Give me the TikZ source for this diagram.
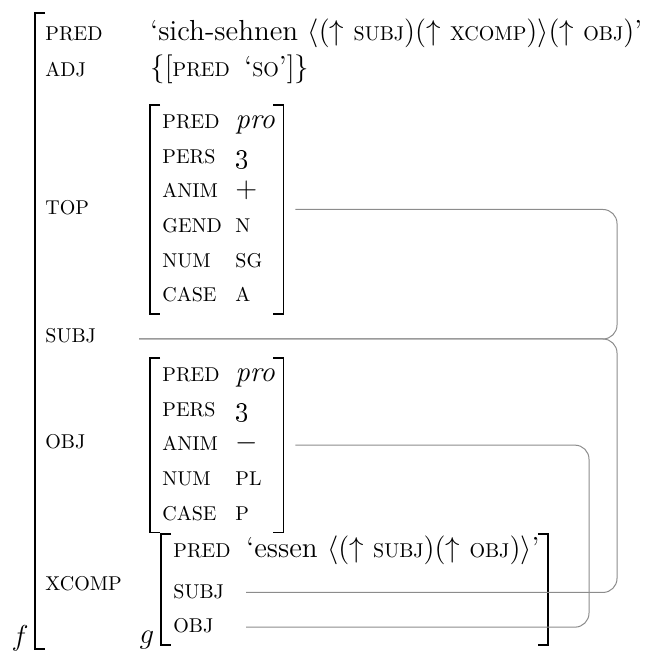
\documentclass[tikz,border=0pt]{standalone}
\usepackage{tikz}
\usetikzlibrary{matrix}

\newcommand{\fa}[1]{{\fontsize{10}{12}\selectfont\MakeUppercase{#1}}}
\newcommand{\gf}[1]{$\Big(\mathord{\uparrow}$\ \fa{#1}$\Big)$}
\newcommand{\avmbrk}[1]{%
	\draw[brk] ([xshift=-1pt]#1.north west) -- ([xshift=-6pt]#1.north west)
		-- ([xshift=-6pt]#1.south west) -- ([xshift=-1pt]#1.south west);
	\draw[brk] ([xshift=-1pt]#1.north east) -- ([xshift=4pt]#1.north east)
		-- ([xshift=4pt]#1.south east) -- ([xshift=-1pt]#1.south east);
}

\begin{document}
\begin{tikzpicture}[x=0.5pt, y=-0.5pt]

\tikzset{avm/.style={
		matrix of nodes,
		nodes in empty cells,
		inner sep=0pt,
		anchor=north west,
		nodes={anchor=base west,
			inner sep=0pt,
			text height=11.5pt,
			text depth=5.85pt
		},
		column 1/.style={nodes={text width=#1, align=left}},
	},
	avm/.default=36.5pt,
	attr/.style={anchor=base west, inner sep=0pt},
	brk/.style={line width=0.8pt},
	link/.style={draw=black!45, line width=0.5pt, rounded corners=7pt},
	every node/.append style={font=\fontsize{14.5}{17}\selectfont}
}
\useasboundingbox (0,0) rectangle (659,652);

% outer f-structure
\draw[brk] (45,13) -- (35,13) -- (35,649) -- (45,649);
\node (f-lbl) [anchor=base] at (20,645) {$f$};

\node (p-pred) [attr] at (45,41) {\fa{pred}};
\node (p-adj) [attr] at (45,77) {\fa{adj}};
\node (p-top) [attr] at (45,215) {\fa{top}};
\node (p-subj) [attr] at (45,343) {\fa{subj}};
\node (p-obj) [attr] at (45,448) {\fa{obj}};
\node (p-xcomp) [attr] at (45,590) {\fa{xcomp}};

\node (v-pred) [attr] at (150,41) {`sich-sehnen $\Big\langle$\gf{subj}\gf{xcomp}$\Big\rangle$\gf{obj}'};
\node (v-adj) [attr] at (150,77) {$\Big\{\Big[$\fa{pred}\enspace`\fa{so}'$\Big]\Big\}$};

% TOP
\matrix (top) [avm] at (162,105) {
	\fa{pred} & \textit{pro} \\
	\fa{pers} & \oldstylenums{3} \\
	\fa{anim} & $+$ \\
	\fa{gend} & \fa{n} \\
	\fa{num} & \fa{sg} \\
	\fa{case} & \fa{a} \\
};
\avmbrk{top}

% OBJ
\matrix (obj) [avm] at (162,358) {
	\fa{pred} & \textit{pro} \\
	\fa{pers} & \oldstylenums{3} \\
	\fa{anim} & $-$ \\
	\fa{num} & \fa{pl} \\
	\fa{case} & \fa{p} \\
};
\avmbrk{obj}

% XCOMP
\matrix (xc) [avm] at (173,534) {
	\fa{pred} & `essen $\Big\langle$\gf{subj}\gf{obj}$\Big\rangle$' \\[3pt]
	\fa{subj} & \\
	\fa{obj} & \\
};
\avmbrk{xc}
\node (g-lbl) [anchor=base] at (147,643) {$g$};

% structure sharing
\coordinate (v-subj) at (139,339);
\coordinate (rail-a) at (617,0);
\coordinate (rail-b) at (589,0);
\coordinate (top-out) at ([xshift=10pt]top.east);
\coordinate (obj-out) at ([xshift=10pt]obj.east);

\draw[link] (top-out) -| (rail-a |- v-subj) -- (v-subj);
\draw[link] (v-subj) -| (rail-a |- xc-2-2.west) -- (xc-2-2.west);
\draw[link] (obj-out) -| (rail-b |- xc-3-2.west) -- (xc-3-2.west);

\end{tikzpicture}
\end{document}
